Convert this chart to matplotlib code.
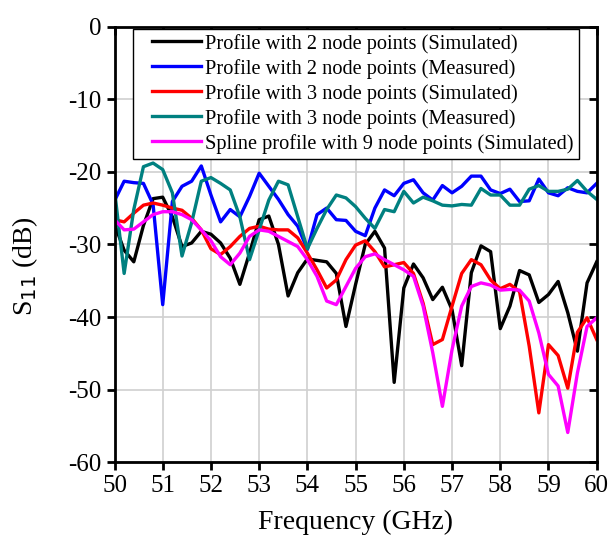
import numpy as np
import matplotlib
matplotlib.use("Agg")
import matplotlib.pyplot as plt
from matplotlib.legend_handler import HandlerLine2D

freq = np.round(np.arange(50.0, 60.01, 0.2), 1)

sim_2node = [-27.2, -30.8, -32.4, -27.4, -23.7, -23.5, -26.2, -30.3, -29.8, -28.2, -28.6,
             -29.8, -31.9, -35.5, -31.2, -26.6, -26.1, -30.0, -37.1, -33.9, -32.0,
             -32.2, -32.4, -34.0, -41.3, -35.5, -30.0, -28.2, -30.5, -49.0, -36.0,
             -32.7, -34.6, -37.6, -35.9, -39.0, -46.7, -33.9, -30.2, -31.0, -41.6,
             -38.5, -33.6, -34.2, -38.0, -36.9, -35.1, -39.4, -44.7, -35.3, -32.4]
meas_2node = [-24.0, -21.3, -21.5, -21.6, -24.5, -38.3, -24.1, -22.0, -21.3, -19.2, -23.2,
              -26.9, -25.2, -26.2, -23.4, -20.2, -22.0, -23.8, -25.9, -27.5, -30.7,
              -25.9, -25.0, -26.6, -26.7, -28.2, -28.8, -25.0, -22.5, -23.3, -21.6,
              -21.1, -22.9, -23.9, -21.9, -22.9, -22.0, -20.6, -20.6, -22.5, -23.0,
              -22.4, -24.1, -24.0, -21.0, -22.9, -23.3, -22.2, -22.7, -22.9, -21.6]
sim_3node = [-26.6, -26.9, -25.7, -24.6, -24.3, -24.6, -25.0, -25.3, -26.4, -28.0, -30.6,
             -31.4, -30.3, -28.9, -27.8, -27.5, -27.9, -28.0, -28.0, -29.1, -31.2,
             -33.5, -36.0, -34.9, -32.1, -30.1, -29.5, -31.0, -33.1, -32.8, -32.5,
             -34.0, -38.1, -43.8, -43.1, -38.5, -34.0, -32.1, -32.8, -34.9, -36.1,
             -35.5, -36.5, -44.0, -53.2, -43.8, -45.3, -49.8, -42.1, -40.1, -43.1]
meas_3node = [-22.5, -34.0, -25.2, -19.3, -18.8, -19.7, -22.9, -31.6, -27.0, -21.3, -20.8,
              -21.6, -22.5, -26.2, -32.1, -28.0, -23.9, -21.3, -21.8, -26.2, -30.6,
              -27.8, -25.2, -23.2, -23.6, -24.8, -26.4, -27.8, -25.2, -25.5, -22.7,
              -24.3, -23.5, -24.0, -24.6, -24.7, -24.5, -24.6, -22.3, -23.2, -23.2,
              -24.6, -24.6, -22.4, -21.9, -22.7, -22.7, -22.4, -21.2, -22.7, -23.8]
spline_9node = [-26.6, -28.0, -27.9, -26.9, -25.9, -25.5, -25.5, -25.9, -26.6, -28.0, -29.5,
                -31.7, -32.8, -31.2, -28.9, -28.0, -28.2, -28.9, -29.6, -30.3, -32.1,
                -34.4, -37.8, -38.3, -35.8, -33.3, -31.7, -31.3, -32.1, -32.8, -33.5,
                -34.4, -38.5, -44.9, -52.3, -44.5, -38.5, -35.8, -35.3, -35.6, -36.3,
                -36.2, -36.3, -37.8, -42.2, -47.9, -49.5, -55.9, -47.7, -41.3, -40.1]

series = [
    ("Profile with 2 node points (Simulated)", sim_2node, "black"),
    ("Profile with 2 node points (Measured)", meas_2node, "#0000ff"),
    ("Profile with 3 node points (Simulated)", sim_3node, "#ff0000"),
    ("Profile with 3 node points (Measured)", meas_3node, "#008080"),
    ("Spline profile with 9 node points (Simulated)", spline_9node, "#ff00ff"),
]


class InsetLine(HandlerLine2D):
    # legend line starts a bit in from the frame edge
    def create_artists(self, legend, orig_handle, xdescent, ydescent,
                       width, height, fontsize, trans):
        arts = super().create_artists(legend, orig_handle, xdescent, ydescent,
                                      width, height, fontsize, trans)
        line = arts[0]
        y = np.asarray(line.get_ydata(), dtype=float)[0]
        line.set_data([0.22 * width - xdescent, width - xdescent], [y, y])
        return arts


plt.rcParams["font.family"] = ["Liberation Serif", "DejaVu Serif"]
plt.rcParams["axes.unicode_minus"] = False

fig = plt.figure(figsize=(6.11, 5.5), dpi=100)
ax = fig.add_axes([0.1874, 0.1595, 0.7892, 0.7923])

for label, vals, col in series:
    ax.plot(freq, vals, color=col, lw=2.4, label=label)

ax.set_xlim(50, 60)
ax.set_ylim(-60, 0)
ax.set_xticks(range(50, 61))
ax.set_yticks(range(-60, 1, 10))
ax.grid(True, color="#d0d0d0", lw=1.2)
ax.set_axisbelow(True)

for sp in ax.spines.values():
    sp.set_linewidth(2)

# bottom/left ticks outward, top/right ticks inward
ax.tick_params(axis="both", which="major", labelsize=18, width=2, length=6,
               direction="out", top=True, right=True)
for t in ax.xaxis.get_major_ticks():
    t.tick2line.set_marker(3)
for t in ax.yaxis.get_major_ticks():
    t.tick2line.set_marker(0)

ax.set_xlabel("Frequency (GHz)", fontsize=20, labelpad=9)
ax.set_ylabel("S$_{11}$ (dB)", fontsize=20)
ax.yaxis.set_label_coords(-0.155, 0.45)

leg = ax.legend(loc="upper left", bbox_to_anchor=(0.034, 1.0), fontsize=14.7,
                handlelength=3.1, handletextpad=0.2, labelspacing=0.25,
                borderpad=0.25, borderaxespad=0.1, fancybox=False, framealpha=1,
                edgecolor="black", handler_map={plt.Line2D: InsetLine()})
leg.get_frame().set_linewidth(1)

fig.savefig("out.png", dpi=100)
